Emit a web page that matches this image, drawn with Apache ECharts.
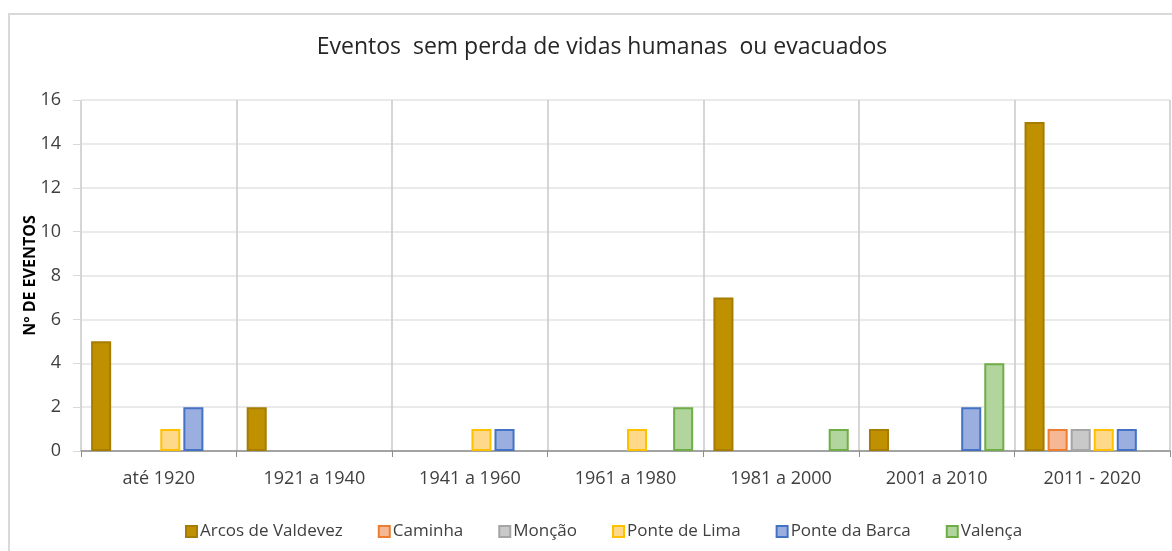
<!DOCTYPE html>
<html>
<head>
<meta charset="utf-8">
<script src="https://cdn.jsdelivr.net/npm/echarts@6/dist/echarts.min.js"></script>
<style>
  html, body { margin: 0; padding: 0; background: #fff; }
  #main { width: 1172px; height: 551px; }
</style>
</head>
<body>
<div id="main"></div>
<script>
// Eventos sem perda de vidas humanas ou evacuados (barras agrupadas)
const periodos = ['até 1920', '1921 a 1940', '1941 a 1960', '1961 a 1980', '1981 a 2000', '2001 a 2010', '2011 - 2020']
const concelhos = ['Arcos de Valdevez', 'Caminha', 'Monção', 'Ponte de Lima', 'Ponte da Barca', 'Valença']

const arcos = [5, 2, 0, 0, 7, 1, 15]
const caminha = [0, 0, 0, 0, 0, 0, 1]
const moncao = [0, 0, 0, 0, 0, 0, 1]
const ponteLima = [1, 0, 1, 1, 0, 0, 1]
const ponteBarca = [2, 0, 1, 0, 0, 2, 1]
const valenca = [0, 0, 0, 2, 1, 4, 0]

const yTicks = [0, 2, 4, 6, 8, 10, 12, 14, 16]

const cores = [
  { fill: '#bf9000', border: '#a67d00' },
  { fill: '#f6b894', border: '#ed7d31' },
  { fill: '#c9c9c9', border: '#a5a5a5' },
  { fill: '#ffd98a', border: '#ffc000' },
  { fill: '#9aafe0', border: '#4472c4' },
  { fill: '#b1d59c', border: '#70ad47' }
]

const valores = [arcos, caminha, moncao, ponteLima, ponteBarca, valenca]
const font = '"Open Sans", "Noto Sans", sans-serif'

let myChart = echarts.init(document.getElementById('main'))
let options = {
  animation: false,
  textStyle: { fontFamily: font },
  graphic: [{
    type: 'rect',
    shape: { x: 9, y: 14, width: 1300, height: 700 },
    style: { fill: 'none', stroke: '#d9d9d9', lineWidth: 2 },
    silent: true
  }],
  title: {
    text: 'Eventos  sem perda de vidas humanas  ou evacuados',
    left: 597,
    top: 31,
    textAlign: 'center',
    textStyle: { fontSize: 23, fontWeight: 'normal', color: '#262626', fontFamily: font }
  },
  legend: {
    data: concelhos,
    left: 180,
    top: 518,
    itemWidth: 11,
    itemHeight: 11,
    itemGap: 35,
    icon: 'rect',
    textStyle: { fontSize: 17, color: '#404040', fontFamily: font, padding: [0, 0, 0, -2] }
  },
  grid: { left: 81, right: 2, top: 100, bottom: 100, containLabel: false },
  xAxis: {
    type: 'category',
    data: periodos,
    axisLine: { lineStyle: { color: '#8c8c8c', width: 1.5 } },
    axisTick: { show: true, length: 6, lineStyle: { color: '#8c8c8c' } },
    axisLabel: { fontSize: 18, color: '#404040', margin: 19, fontFamily: font },
    splitLine: { show: true, lineStyle: { color: '#c8c8c8', width: 1.5 } }
  },
  yAxis: {
    type: 'value',
    min: yTicks[0],
    max: yTicks[yTicks.length - 1],
    interval: 2,
    name: 'Nº DE EVENTOS',
    nameLocation: 'middle',
    nameGap: 43,
    nameMoveOverlap: false,
    nameTextStyle: { fontSize: 16, fontWeight: 'bold', color: '#000', fontFamily: font },
    axisLine: { show: false },
    axisTick: { show: true, inside: false, length: 8, lineStyle: { color: '#d9d9d9' } },
    axisLabel: { fontSize: 18, color: '#404040', margin: 20, fontFamily: font },
    splitLine: { show: true, lineStyle: { color: '#e3e3e3', width: 1.5 } }
  },
  series: concelhos.map((nome, i) => ({
    name: nome,
    type: 'bar',
    barGap: '15%',
    barCategoryGap: '13%',
    data: valores[i].map(v => (v === 0 ? '-' : v)),
    itemStyle: { color: cores[i].fill, borderColor: cores[i].border, borderWidth: 2 }
  }))
}
myChart.setOption(options)
</script>
</body>
</html>
